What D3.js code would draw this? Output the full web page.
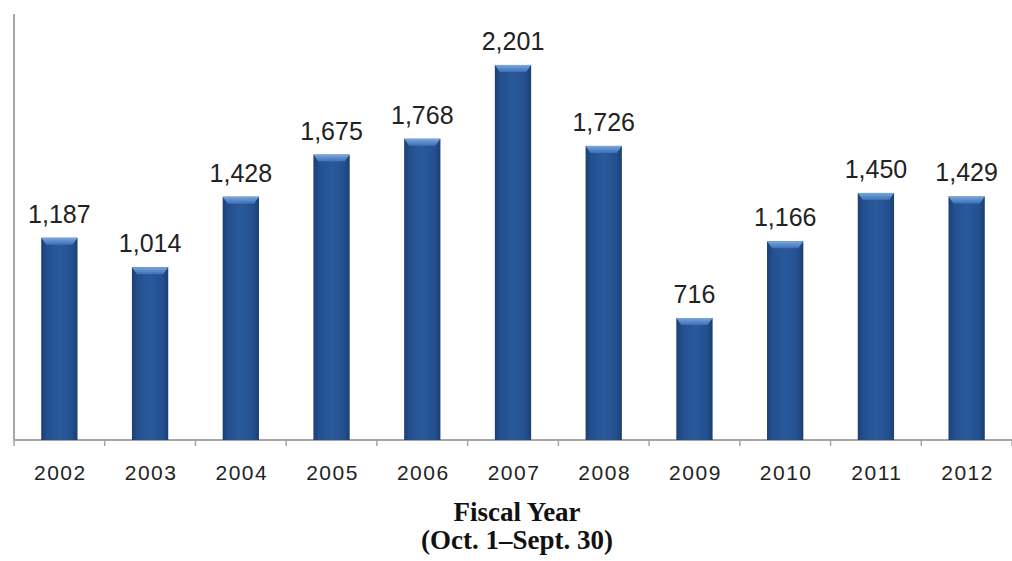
<!DOCTYPE html>
<html>
<head>
<meta charset="utf-8">
<script src="https://cdn.jsdelivr.net/npm/d3@7"></script>
<style>
  body { margin: 0; background: #fff; }
  .bar-label { font-family: "Liberation Sans", Arial, sans-serif; font-size: 25px; fill: #222; }
  .x-tick { font-family: "Liberation Sans", Arial, sans-serif; font-size: 21px; letter-spacing: 1.5px; fill: #222; }
  .x-title { font-family: "Liberation Serif", "Times New Roman", serif; font-size: 27px; font-weight: bold; fill: #111; }
</style>
</head>
<body>
<div class="chart"></div>
<script>

// Chart data
var years = ["2002", "2003", "2004", "2005", "2006", "2007", "2008", "2009", "2010", "2011", "2012"];
var counts = [1187, 1014, 1428, 1675, 1768, 2201, 1726, 716, 1166, 1450, 1429];
var titleLines = ["Fiscal Year", "(Oct. 1\u2013Sept. 30)"];

var width = 1012, height = 561;
var margin = { top: 14, right: 0, bottom: 121, left: 14 };
var plotW = width - margin.left - margin.right;
var plotH = height - margin.top - margin.bottom;

var svg = d3.select(".chart")
    .append("svg")
      .attr("width", width)
      .attr("height", height);

// Gradients for the bevelled bars
var defs = svg.append("defs");
var grad = defs.append("linearGradient")
    .attr("id", "barGrad")
    .attr("x1", "0").attr("x2", "1").attr("y1", "0").attr("y2", "0");
grad.append("stop").attr("offset", "0%").attr("stop-color", "#1b3f73");
grad.append("stop").attr("offset", "15%").attr("stop-color", "#234f8e");
grad.append("stop").attr("offset", "50%").attr("stop-color", "#2a5a9c");
grad.append("stop").attr("offset", "85%").attr("stop-color", "#234f8e");
grad.append("stop").attr("offset", "100%").attr("stop-color", "#1b3f73");

var capGrad = defs.append("linearGradient")
    .attr("id", "capGrad")
    .attr("x1", "0").attr("x2", "0").attr("y1", "0").attr("y2", "1");
capGrad.append("stop").attr("offset", "0%").attr("stop-color", "#7aa7de");
capGrad.append("stop").attr("offset", "100%").attr("stop-color", "#3c6fb4");

var g = svg.append("g")
    .attr("transform", "translate(" + margin.left + "," + margin.top + ")");

var x = d3.scaleBand()
    .domain(years)
    .range([0, plotW])
    .paddingInner(0.6)
    .paddingOuter(0.3);

var y = d3.scaleLinear()
    .domain([0, 2500])
    .range([plotH, 0]);

// Category boundaries for the tick marks
var band = d3.scaleBand().domain(years).range([0, plotW]);
var bounds = years.map(function(d) { return band(d); }).concat([plotW]);

// Axes
g.append("line")
    .attr("x1", 0).attr("x2", 0)
    .attr("y1", 0).attr("y2", plotH)
    .attr("stroke", "#a6a6a6")
    .attr("stroke-width", 2);

g.append("line")
    .attr("x1", 0).attr("x2", plotW)
    .attr("y1", plotH).attr("y2", plotH)
    .attr("stroke", "#a6a6a6")
    .attr("stroke-width", 2);

g.selectAll(".tick-mark")
    .data(bounds)
    .enter().append("line")
      .attr("class", "tick-mark")
      .attr("x1", function(d) { return d; })
      .attr("x2", function(d) { return d; })
      .attr("y1", plotH)
      .attr("y2", plotH + 6)
      .attr("stroke", "#a6a6a6")
      .attr("stroke-width", 1.5);

// Bars
var bars = g.selectAll(".bar")
    .data(counts)
    .enter().append("g")
      .attr("class", "bar");

bars.append("rect")
    .attr("x", function(d, i) { return x(years[i]); })
    .attr("y", function(d) { return y(d); })
    .attr("width", x.bandwidth())
    .attr("height", function(d) { return plotH - y(d); })
    .style("fill", "url(#barGrad)");

// Top bevel
bars.append("path")
    .attr("d", function(d, i) {
        var x0 = x(years[i]), w = x.bandwidth(), t = y(d);
        return "M" + x0 + "," + t + "H" + (x0 + w) + "L" + (x0 + w - 5) + "," + (t + 7) +
               "H" + (x0 + 5) + "Z";
    })
    .style("fill", "url(#capGrad)");

// Value labels
g.selectAll(".bar-label")
    .data(counts)
    .enter().append("text")
      .attr("class", "bar-label")
      .attr("x", function(d, i) { return x(years[i]) + x.bandwidth() / 2; })
      .attr("y", function(d) { return y(d) - 15; })
      .attr("text-anchor", "middle")
      .text(function(d) { return d3.format(",")(d); });

// Year labels
g.selectAll(".x-tick")
    .data(years)
    .enter().append("text")
      .attr("class", "x-tick")
      .attr("x", function(d) { return band(d) + band.bandwidth() / 2 + 1; })
      .attr("y", plotH + 40)
      .attr("text-anchor", "middle")
      .text(function(d) { return d; });

// Axis title
g.selectAll(".x-title")
    .data(titleLines)
    .enter().append("text")
      .attr("class", "x-title")
      .attr("x", plotW / 2 + 4)
      .attr("y", function(d, i) { return plotH + 81 + i * 28; })
      .attr("text-anchor", "middle")
      .text(function(d) { return d; });

</script>
</body>
</html>
